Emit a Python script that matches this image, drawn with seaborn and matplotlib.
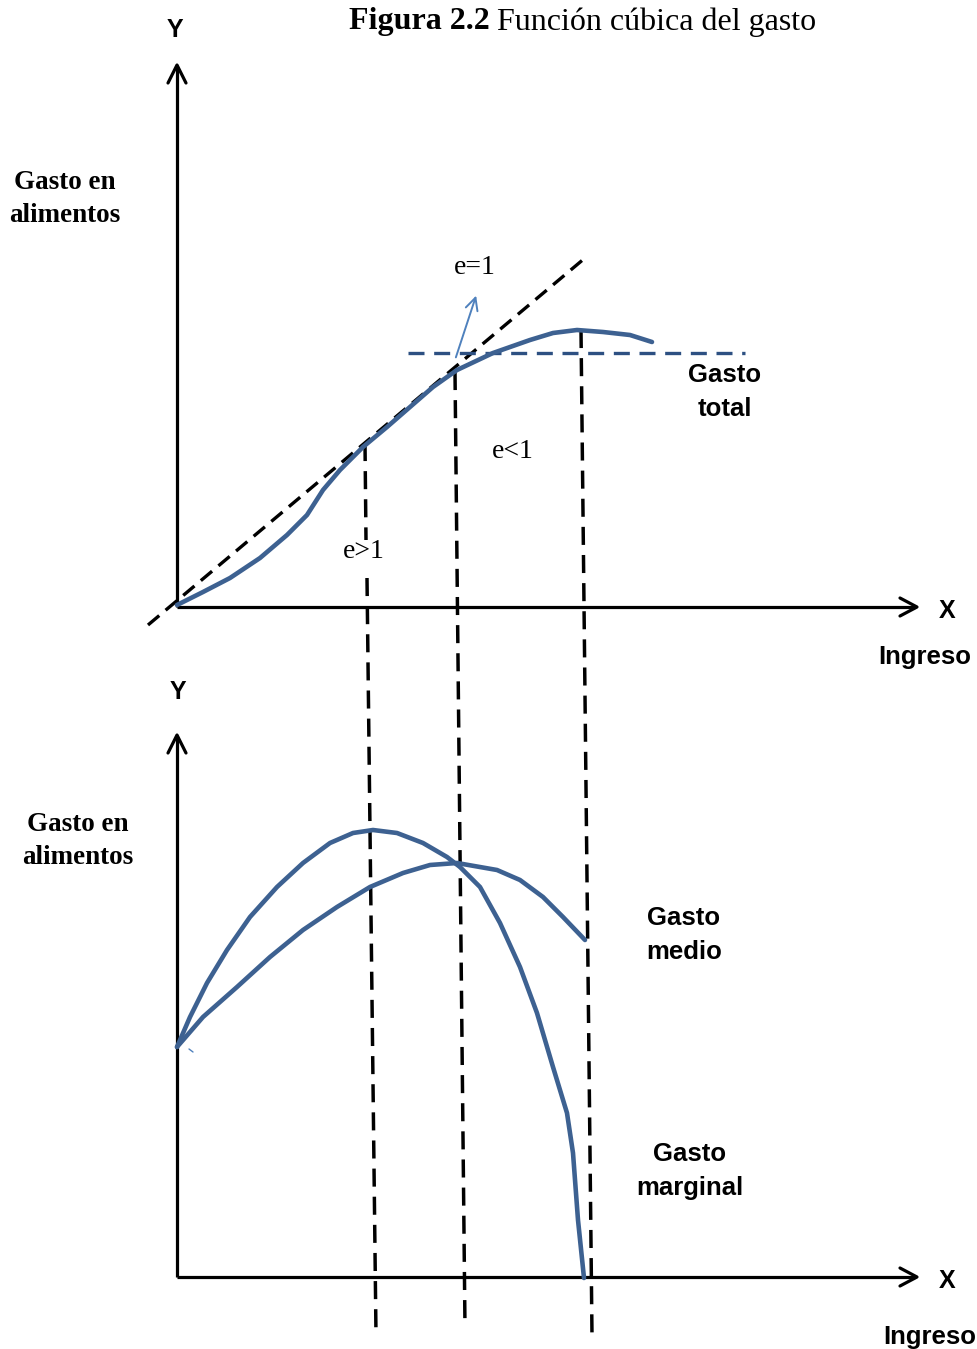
import matplotlib
matplotlib.use("Agg")
import matplotlib.pyplot as plt
import seaborn as sns
import pandas as pd

sns.set_style("white")
plt.rcParams["font.family"] = ["Liberation Sans", "DejaVu Sans"]
plt.rcParams["text.color"] = "black"

# --- datos (coordenadas en pixeles de la figura) ---
# curva de gasto total (panel superior)
total_x = [177, 203, 230, 260, 287, 307, 323, 340, 363, 387, 410, 433, 457, 493,
           530, 553, 577, 603, 630, 652]
total_y = [605, 592, 578, 558, 535, 515, 490, 470, 447, 427, 407, 387, 370, 353,
           340, 333, 330, 332, 335, 342]

# gasto marginal (panel inferior)
marg_x = [177, 190, 207, 227, 250, 277, 303, 330, 353, 373, 397, 423, 447, 460,
          480, 500, 520, 537, 553, 567, 573, 578, 584]
marg_y = [1047, 1017, 983, 950, 917, 887, 863, 843, 833, 830, 833, 843, 857, 867,
          887, 923, 967, 1013, 1067, 1113, 1153, 1220, 1278]
# gasto medio (panel inferior)
medio_x = [177, 203, 237, 270, 303, 337, 370, 403, 430, 457, 497, 520, 543, 563, 585]
medio_y = [1047, 1017, 987, 957, 930, 907, 887, 873, 865, 863, 870, 880, 897, 917, 940]

# recta tangente (e=1) y nivel de gasto total
tang_x = [148, 585]
tang_y = [625, 258]
nivel_x = [408, 745]
nivel_y = [353, 353]

# guias verticales
guias = [
    ([365, 366], [443, 540]),
    ([367, 376], [578, 1335]),
    ([455, 465], [372, 1328]),
    ([581, 592], [330, 1335]),
]

# ejes: origen x, origen y, tope de Y, fin de X
ejes = {"sup": (177, 607, 65, 917), "inf": (177, 1277, 735, 917)}

AZUL = "#3D6191"
AZUL_OSC = "#2D5082"
AZUL_CLARO = "#4F81BD"

fig = plt.figure(figsize=(9.77, 13.49), dpi=100)
ax = fig.add_axes([0, 0, 1, 1])

# ejes con flechas abiertas
for x0, y0, ytop, xend in ejes.values():
    ax.plot([x0, x0], [y0, ytop + 2], color="black", lw=2.3, solid_capstyle="butt")
    ax.plot([x0, xend - 2], [y0, y0], color="black", lw=2.3, solid_capstyle="butt")
    ax.plot([x0 - 9, x0, x0 + 9], [ytop + 18, ytop, ytop + 18], color="black", lw=2.3)
    ax.plot([xend - 17, xend, xend - 17], [y0 - 9, y0, y0 + 9], color="black", lw=2.3)

# guias discontinuas
for gx, gy in guias:
    ln, = ax.plot(gx, gy, color="black", lw=2.5)
    ln.set_dashes((5.2, 2.9))
tl, = ax.plot(tang_x, tang_y, color="black", lw=2.4)
tl.set_dashes((4.4, 2.5))
nl, = ax.plot(nivel_x, nivel_y, color=AZUL_OSC, lw=2.4)
nl.set_dashes((4.8, 2.9))

# curvas
df_total = pd.DataFrame({"x": total_x, "y": total_y})
df_marg = pd.DataFrame({"x": marg_x, "y": marg_y})
df_medio = pd.DataFrame({"x": medio_x, "y": medio_y})
for d in (df_total, df_marg, df_medio):
    sns.lineplot(data=d, x="x", y="y", sort=False, color=AZUL, lw=3.3, ax=ax,
                 solid_capstyle="round", solid_joinstyle="round")
ax.set_xlim(0, 977)
ax.set_ylim(1349, 0)
ax.axis("off")

# flecha e=1
ax.annotate("", xy=(477, 293), xytext=(455, 360),
            arrowprops=dict(arrowstyle="->", color=AZUL_CLARO, lw=1.4,
                            mutation_scale=22))
ax.plot([189, 193], [1049, 1052], color=AZUL_CLARO, lw=1.0)

serif = ["Liberation Serif", "DejaVu Serif"]

# titulo
t1 = ax.text(349, 22, "Figura 2.2", family=serif, fontweight="bold", fontsize=23,
             ha="left", va="center")
fig.canvas.draw()
bb = t1.get_window_extent().transformed(ax.transData.inverted())
ax.text(bb.x1 + 7, 22, "Función cúbica del gasto", family=serif, fontsize=23,
        ha="left", va="center")

# etiquetas
for xy in [(175, 30), (178, 692)]:
    ax.text(*xy, "Y", fontweight="bold", fontsize=18, ha="center", va="center")
for xy in [(947, 611), (947, 1281)]:
    ax.text(*xy, "X", fontweight="bold", fontsize=18, ha="center", va="center")
ax.text(971, 657, "Ingreso", fontweight="bold", fontsize=18.5, ha="right", va="center")
ax.text(976, 1337, "Ingreso", fontweight="bold", fontsize=18.5, ha="right", va="center")

ax.text(65, 199, "Gasto en\nalimentos", family=serif, fontweight="bold", fontsize=19.5,
        ha="center", va="center", linespacing=1.45)
ax.text(78, 841, "Gasto en\nalimentos", family=serif, fontweight="bold", fontsize=19.5,
        ha="center", va="center", linespacing=1.45)

ax.text(725, 392, "Gasto\ntotal", fontweight="bold", fontsize=18.5, ha="center",
        va="center", linespacing=1.55)
ax.text(684, 935, "Gasto\nmedio", fontweight="bold", fontsize=18.5, ha="center",
        va="center", linespacing=1.55)
ax.text(690, 1171, "Gasto\nmarginal", fontweight="bold", fontsize=18.5, ha="center",
        va="center", linespacing=1.55)

ax.text(475, 267, "e=1", family=serif, fontsize=20, ha="center", va="center")
ax.text(513, 452, "e<1", family=serif, fontsize=20, ha="center", va="center")
ax.text(364, 551, "e>1", family=serif, fontsize=20, ha="center", va="center")

fig.savefig("out.png", dpi=100, facecolor="white")
